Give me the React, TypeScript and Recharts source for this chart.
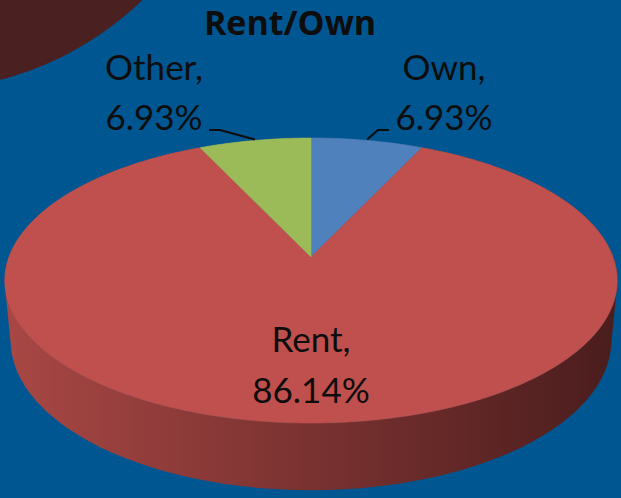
import React from 'react';
import { PieChart, Pie, Cell } from 'recharts';

// tenure split
const categories = ['Own', 'Rent', 'Other'];
const shares = [6.93, 86.14, 6.93];
const sliceColors = ['#4f81bd', '#c0504d', '#9bbb59'];
const sideStops = [
  ['#44699a', '#22395a'],
  ['#a84744', '#4b1d1d'],
  ['#7f9a48', '#44532a'],
];
const chartTitle = 'Rent/Own';

const data = categories.map((name, i) => ({ name, value: shares[i] }));

const W = 621;
const H = 498;
const CX = 311;
const CY = 257; // pie vertex
const R = 302;
const RAD = Math.PI / 180;
const FONT = 'Lato, "Open Sans", sans-serif';

// perspective view of a tilted disc (camera distance, tilt, wall height in radius units)
const DIST = 5.376;
const TILT_S = 0.459;
const TILT_C = 0.888;
const WALL = 0.2257;

function proj(cx: number, cy: number, r: number, deg: number, down: number) {
  const t = deg * RAD;
  const xc = Math.cos(t);
  const yc = Math.sin(t) * TILT_S - down * TILT_C;
  const zc = DIST + Math.sin(t) * TILT_C + down * TILT_S;
  const k = r * DIST;
  return [cx + (k * xc) / zc, cy - (k * yc) / zc];
}

function arc(cx: number, cy: number, r: number, from: number, to: number, down: number) {
  const n = Math.max(2, Math.ceil(Math.abs(to - from)));
  const pts: number[][] = [];
  for (let i = 0; i <= n; i++) pts.push(proj(cx, cy, r, from + ((to - from) * i) / n, down));
  return pts;
}

function TopSlice(props: any) {
  const { cx, cy, outerRadius, startAngle, endAngle, fill } = props;
  const pts = arc(cx, cy, outerRadius, startAngle, endAngle, 0);
  const d = `M${cx},${cy} ` + pts.map((p) => `L${p[0].toFixed(2)},${p[1].toFixed(2)}`).join(' ') + ' Z';
  return <path d={d} fill={fill} stroke={fill} strokeWidth={0.6} />;
}

// outer wall of each slice; the back part ends up under the top faces
function SideSlice(props: any) {
  const { cx, cy, outerRadius, startAngle, endAngle, index } = props;
  const top = arc(cx, cy, outerRadius, startAngle, endAngle, 0);
  const bot = arc(cx, cy, outerRadius, startAngle, endAngle, WALL);
  let d = '';
  for (let i = 0; i < top.length - 1; i++) {
    let q = [top[i], top[i + 1], bot[i + 1], bot[i]];
    let area = 0;
    for (let j = 0; j < 4; j++) {
      const a = q[j];
      const b = q[(j + 1) % 4];
      area += a[0] * b[1] - b[0] * a[1];
    }
    if (area < 0) q = q.slice().reverse();
    d += `M${q.map((p) => `${p[0].toFixed(2)},${p[1].toFixed(2)}`).join(' L')} Z `;
  }
  return <path d={d} fill={`url(#side-${index})`} />;
}

function SliceLabel(props: any) {
  const { cx, cy, midAngle, outerRadius, percent, name, value } = props;
  const txt = `${Number(value).toFixed(2)}%`;
  const style = { fontFamily: FONT, fontSize: 35, fill: '#0d0d0d' };
  if (percent > 0.5) {
    return (
      <g>
        <text x={cx} y={cy + 95} textAnchor="middle" style={style}>{`${name},`}</text>
        <text x={cx} y={cy + 146} textAnchor="middle" style={style}>{txt}</text>
      </g>
    );
  }
  const sign = Math.cos(midAngle * RAD) >= 0 ? 1 : -1;
  const tx = cx - 12 + sign * 145;
  const edge = tx - sign * 53;
  const [px, py] = proj(cx, cy, outerRadius, midAngle, 0);
  const ly = cy - 127;
  return (
    <g>
      <polyline
        points={`${px},${py - 1} ${edge - sign * 13},${ly} ${edge - sign * 2},${ly}`}
        fill="none"
        stroke="#0d0d0d"
        strokeWidth={2}
      />
      <text x={tx} y={cy - 177} textAnchor="middle" style={style}>{`${name},`}</text>
      <text x={tx} y={cy - 127} textAnchor="middle" style={style}>{txt}</text>
    </g>
  );
}

export default function App() {
  return (
    <div
      style={{
        position: 'absolute',
        left: 0,
        top: 0,
        width: W,
        height: H,
        background: '#005691',
        overflow: 'hidden',
      }}
    >
      <svg width={W} height={H} style={{ position: 'absolute', left: 0, top: 0 }}>
        <defs>
          {sideStops.map((s, i) => (
            <linearGradient
              key={i}
              id={`side-${i}`}
              gradientUnits="userSpaceOnUse"
              x1={CX - R}
              y1={0}
              x2={CX + R}
              y2={0}
            >
              <stop offset="0%" stopColor={s[0]} />
              <stop offset="100%" stopColor={s[1]} />
            </linearGradient>
          ))}
        </defs>
        <circle cx={-80} cy={-230} r={320} fill="#4b2020" />
        <text
          x={290}
          y={35}
          textAnchor="middle"
          style={{ fontFamily: '"Open Sans", sans-serif', fontWeight: 700, fontSize: 34, fill: '#0d0d0d' }}
        >
          {chartTitle}
        </text>
      </svg>
      <div style={{ position: 'absolute', left: 0, top: 0 }}>
        <PieChart width={W} height={H} margin={{ top: 0, right: 0, bottom: 0, left: 0 }}>
          <Pie
            data={data}
            dataKey="value"
            nameKey="name"
            cx={CX}
            cy={CY}
            outerRadius={R}
            startAngle={90}
            endAngle={-270}
            stroke="none"
            shape={SideSlice}
            isAnimationActive={false}
          >
            {data.map((d, i) => (
              <Cell key={d.name} fill={sliceColors[i]} />
            ))}
          </Pie>
          <Pie
            data={data}
            dataKey="value"
            nameKey="name"
            cx={CX}
            cy={CY}
            outerRadius={R}
            startAngle={90}
            endAngle={-270}
            stroke="none"
            shape={TopSlice}
            label={SliceLabel}
            labelLine={false}
            isAnimationActive={false}
          >
            {data.map((d, i) => (
              <Cell key={d.name} fill={sliceColors[i]} />
            ))}
          </Pie>
        </PieChart>
      </div>
    </div>
  );
}
